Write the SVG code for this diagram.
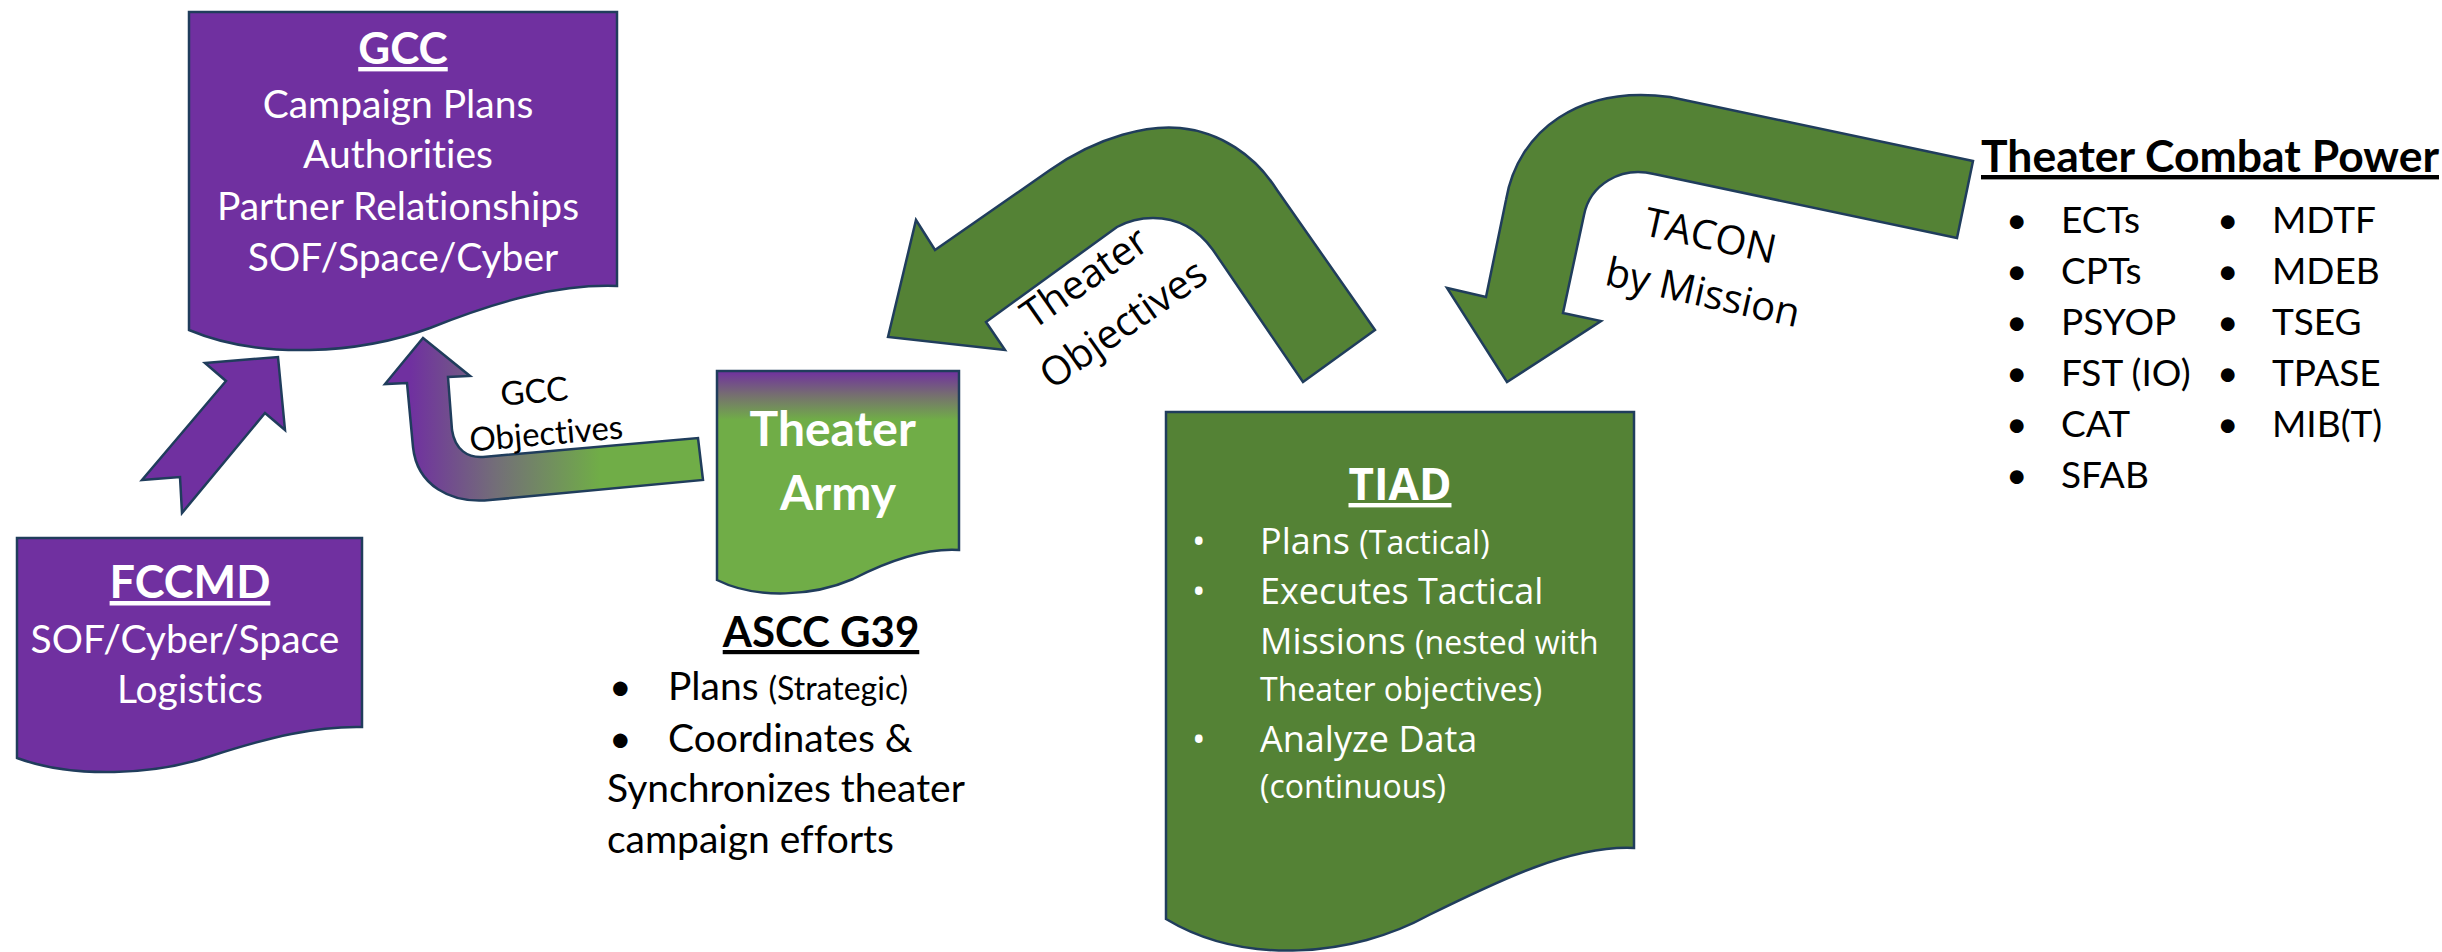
<svg xmlns="http://www.w3.org/2000/svg" width="2442" height="952" viewBox="0 0 2442 952">
<style>
.shape{stroke:#203D5C;stroke-width:2.5;stroke-linejoin:miter}
.purple{fill:#7030A0}
.dgreen{fill:#548235}
.w{fill:#FFFFFF}
.k{fill:#000000}
.lato{font-family:Lato,"Liberation Sans",sans-serif}
.open{font-family:"Open Sans","Liberation Sans",sans-serif}
text{font-variant-ligatures:none}
.b{font-weight:bold}
.u{text-decoration:underline}
.mid{text-anchor:middle}
</style>
<defs>
<linearGradient id="gObj" gradientUnits="userSpaceOnUse" x1="410" y1="0" x2="600" y2="0">
<stop offset="0" stop-color="#7030A0"/>
<stop offset="0.45" stop-color="#736E78"/>
<stop offset="1" stop-color="#70AD47"/>
</linearGradient>
<linearGradient id="gArmy" gradientUnits="userSpaceOnUse" x1="0" y1="371" x2="0" y2="420">
<stop offset="0" stop-color="#7030A0"/>
<stop offset="0.5" stop-color="#76706F"/>
<stop offset="1" stop-color="#70AD47"/>
</linearGradient>
</defs>

<g id="node-gcc">
<path class="shape purple" d="M189,12 H617 V286 C560,284 500,300 430,328 C360,354 260,360 189,330 Z"/>
<text class="lato b u w mid" x="403" y="64" font-size="44">GCC</text>
<text class="lato w mid" font-size="39">
<tspan x="403" y="118">Campaign Plans</tspan>
<tspan x="403" y="168">Authorities</tspan>
<tspan x="403" y="220">Partner Relationships</tspan>
<tspan x="403" y="271">SOF/Space/Cyber</tspan>
</text>
</g>

<g id="node-fccmd">
<path class="shape purple" d="M17,538 H362 V727 C316,726 270,737 211,756 C155,775 74,779 17,758 Z"/>
<text class="lato b u w mid" x="190" y="598" font-size="45">FCCMD</text>
<text class="lato w mid" font-size="39">
<tspan x="190" y="653">SOF/Cyber/Space</tspan>
<tspan x="190" y="703">Logistics</tspan>
</text>
</g>

<g id="node-theater-army">
<path class="shape" fill="url(#gArmy)" d="M717,371 H959 V550 C927,548 890,560 853,579 C814,596 757,600 717,580 Z"/>
<text class="lato b w mid" font-size="48">
<tspan x="838" y="446">Theater</tspan>
<tspan x="838" y="510">Army</tspan>
</text>
</g>

<g id="node-ascc-g39">
<text class="lato b u k mid" x="821" y="647" font-size="42">ASCC G39</text>
<text class="lato k" font-size="39">
<tspan x="609" y="700">•</tspan>
<tspan x="668" y="700">Plans <tspan font-size="32">(Strategic)</tspan></tspan>
<tspan x="609" y="752">•</tspan>
<tspan x="668" y="752">Coordinates &amp;</tspan>
<tspan x="607" y="802">Synchronizes theater</tspan>
<tspan x="607" y="853">campaign efforts</tspan>
</text>
</g>

<g id="node-tiad">
<path class="shape dgreen" d="M1166,412 H1634 V848 C1572,845 1500,880 1429,915 C1353,957 1244,966 1166,919 Z"/>
<text class="open b u w mid" x="1400" y="500" font-size="44">TIAD</text>
<text class="open w" font-size="36">
<tspan x="1192" y="554">•</tspan>
<tspan x="1260" y="554">Plans <tspan font-size="32">(Tactical)</tspan></tspan>
<tspan x="1192" y="604">•</tspan>
<tspan x="1260" y="604">Executes Tactical</tspan>
<tspan x="1260" y="654">Missions <tspan font-size="32">(nested with</tspan></tspan>
<tspan x="1260" y="701" font-size="32">Theater objectives)</tspan>
<tspan x="1192" y="752">•</tspan>
<tspan x="1260" y="752">Analyze Data</tspan>
<tspan x="1260" y="798" font-size="32">(continuous)</tspan>
</text>
</g>

<g id="node-theater-combat-power">
<text class="lato b u k" x="1981" y="172" font-size="44" textLength="458" lengthAdjust="spacingAndGlyphs">Theater Combat Power</text>
<text class="lato k" font-size="37">
<tspan x="2006" y="233">•</tspan><tspan x="2061" y="233">ECTs</tspan>
<tspan x="2006" y="284">•</tspan><tspan x="2061" y="284">CPTs</tspan>
<tspan x="2006" y="335">•</tspan><tspan x="2061" y="335">PSYOP</tspan>
<tspan x="2006" y="386">•</tspan><tspan x="2061" y="386">FST (IO)</tspan>
<tspan x="2006" y="437">•</tspan><tspan x="2061" y="437">CAT</tspan>
<tspan x="2006" y="488">•</tspan><tspan x="2061" y="488">SFAB</tspan>
<tspan x="2217" y="233">•</tspan><tspan x="2272" y="233">MDTF</tspan>
<tspan x="2217" y="284">•</tspan><tspan x="2272" y="284">MDEB</tspan>
<tspan x="2217" y="335">•</tspan><tspan x="2272" y="335">TSEG</tspan>
<tspan x="2217" y="386">•</tspan><tspan x="2272" y="386">TPASE</tspan>
<tspan x="2217" y="437">•</tspan><tspan x="2272" y="437">MIB(T)</tspan>
</text>
</g>

<g id="connectors">
<path id="arrow-fccmd-gcc" class="shape purple" d="M278,357 L285,430 L265,413 L182,513 L180,477 L142,480 L226,381 L205,363 Z"/>
<path id="arrow-army-gcc" class="shape" fill="url(#gObj)" d="M423,338 L470,376 L448,377 L452,430 C455,450 468,458 483,457 L698,438 L703,480 L490,500 C450,504 417,485 413,447 L407,383 L385,384 Z"/>
<path id="arrow-tiad-army" class="shape dgreen" d="M888,337 L916,220 L935,250 L1050,170 C1100,135 1150,125 1180,128 C1220,132 1255,155 1277,190 L1375,330 L1303,382 L1213,250 C1200,232 1180,218 1153,218 C1140,218 1128,221 1117,227 L986,322 L1005,350 Z"/>
<path id="arrow-tcp-tiad" class="shape dgreen" d="M1973,161 L1957,238 L1654,174 C1620,166 1590,185 1584,215 L1563,313 L1601,321 L1507,382 L1447,288 L1486,297 L1506,200 C1518,130 1580,85 1670,97 Z"/>
<g transform="rotate(-5 545 420)">
<text class="lato k mid" font-size="33">
<tspan x="541" y="402">GCC</tspan>
<tspan x="545" y="445">Objectives</tspan>
</text>
</g>
<g transform="translate(1131,335) rotate(-35)">
<text class="open k mid" font-size="40">
<tspan x="0" y="-60">Theater</tspan>
<tspan x="0" y="0">Objectives</tspan>
</text>
</g>
<g transform="translate(1700,306) rotate(12.5)">
<text class="open k mid" font-size="40">
<tspan x="0" y="-57">TACON</tspan>
<tspan x="0" y="0">by Mission</tspan>
</text>
</g>
</g>
</svg>
